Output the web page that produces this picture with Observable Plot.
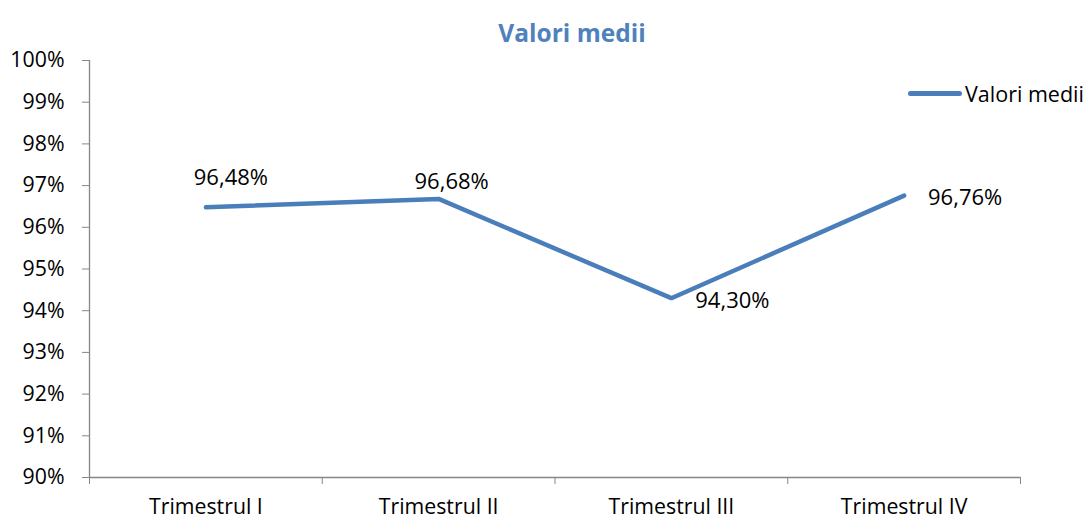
<!DOCTYPE html>
<html><head><meta charset="utf-8">
<script src="https://cdn.jsdelivr.net/npm/d3@7"></script>
<script src="https://cdn.jsdelivr.net/npm/@observablehq/plot@0.6"></script>
<style>
body{margin:0;background:#fff;}
#wrap{position:relative;width:1091px;height:518px;}
#legend{position:absolute;left:908px;top:79px;font-family:"Open Sans",sans-serif;font-size:21.5px;color:#000;display:flex;align-items:center;}
#legend span.sw{display:inline-block;width:54px;height:5px;border-radius:3px;background:#4A7EBB;margin-right:3px;}
</style></head>
<body><div id="wrap"><div id="legend"><span class="sw"></span><span>Valori medii</span></div></div>
<script>
const title = "Valori medii";
const seriesName = "Valori medii";
const categories = ["Trimestrul I", "Trimestrul II", "Trimestrul III", "Trimestrul IV"];
const values = [96.48, 96.68, 94.30, 96.76];
const yTicks = [90, 91, 92, 93, 94, 95, 96, 97, 98, 99, 100];

const ro = d3.formatLocale({decimal: ",", thousands: ".", grouping: [3], currency: ["", " lei"]});
const fmt2 = ro.format(".2f");

const data = categories.map((c, i) => ({cat: c, idx: i + 0.5, v: values[i]}));
const boundaries = d3.range(categories.length + 1);
const font = "'Open Sans', sans-serif";
const axisColor = "#868686";
const lineColor = "#4A7EBB";

const labelOffsets = [[25, -29], [13, -17], [61, 3], [61, 2]];

const plot = Plot.plot({
  width: 1091,
  height: 518,
  marginLeft: 89,
  marginRight: 71,
  marginTop: 60,
  marginBottom: 41,
  style: {fontFamily: font, fontSize: "21px", color: "#000", background: "#fff"},
  x: {domain: [0, categories.length]},
  y: {domain: [90, 100]},
  marks: [
    Plot.axisY({ticks: yTicks, tickSize: 7, tickPadding: 18, tickFormat: d => d + "%", stroke: axisColor, color: "#000", fontSize: 21.3, label: null}),
    Plot.ruleX([0], {y1: 90, y2: 100, stroke: axisColor, strokeWidth: 1.3}),
    Plot.ruleY([90], {stroke: axisColor, strokeWidth: 1.3}),
    Plot.axisX({ticks: boundaries, tickSize: 7, tickFormat: () => "", stroke: axisColor, label: null}),
    Plot.axisX({ticks: data.map(d => d.idx), tickSize: 0, tickPadding: 21, tickFormat: i => categories[Math.floor(i)], color: "#000", fontSize: 21.3, label: null}),
    Plot.line(data, {x: "idx", y: "v", stroke: lineColor, strokeWidth: 4.5, strokeLinejoin: "miter", strokeLinecap: "round"}),
    ...data.map((d, i) => Plot.text([d], {x: "idx", y: "v", text: dd => fmt2(dd.v) + "%", dx: labelOffsets[i][0], dy: labelOffsets[i][1], fontSize: 22, fill: "#000"})),
    Plot.text([title], {frameAnchor: "top", dx: 17, dy: -36, fontSize: 24.5, fontWeight: "bold", fill: "#4F81BD"})
  ]
});
document.getElementById("wrap").prepend(plot);
plot.style.position = "absolute";
plot.style.left = "0";
plot.style.top = "0";
</script></body></html>
